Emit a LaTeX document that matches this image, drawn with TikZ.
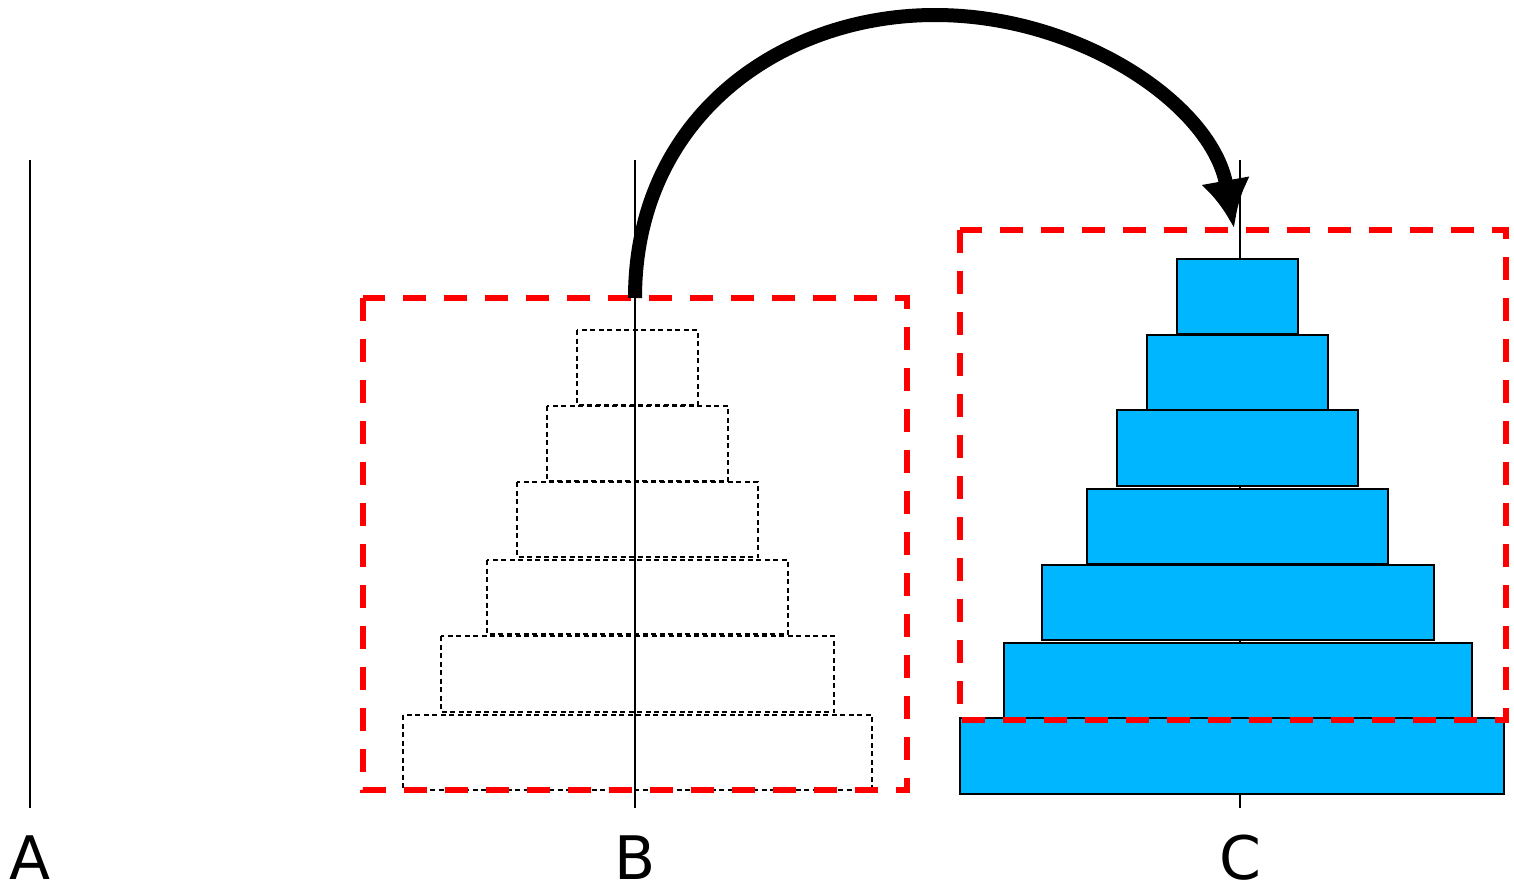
\documentclass[tikz,border=0pt]{standalone}
\usepackage{fontspec}
\setsansfont{DejaVu Sans}
\usetikzlibrary{arrows.meta}
\definecolor{diskblue}{RGB}{0,182,255}

\begin{document}
\begin{tikzpicture}[x=1pt,y=-1pt,>=Latex,
  peg/.style={line width=1.6pt},
  ghost/.style={line width=1.3pt,dash pattern=on 5pt off 3.5pt},
  disk/.style={draw,line width=1.6pt,fill=diskblue},
  selbox/.style={draw=red,line width=5.5pt,dash pattern=on 23pt off 18pt},
  lbl/.style={font=\sffamily\fontsize{60}{68}\selectfont,anchor=base,inner sep=0pt}]
  \useasboundingbox (0,0) rectangle (1514,887);
  % pegs
  \draw[peg] (30,160) -- (30,808);
  \draw[peg] (635,160) -- (635,808);
  \draw[peg] (1240,160) -- (1240,808);
  \node[lbl] (pegA) at (30,879) {A};
  \node[lbl] (pegB) at (635,879) {B};
  \node[lbl] (pegC) at (1240,879) {C};
  % old place of the tower on B
  \draw[ghost] (577,330) rectangle (698,405);
  \draw[ghost] (547,406) rectangle (728,481);
  \draw[ghost] (517,482) rectangle (758,557);
  \draw[ghost] (487,560) rectangle (788,634);
  \draw[ghost] (441,636) rectangle (834,712);
  \draw[ghost] (403,715) rectangle (872,790);
  % tower on C
  \draw[disk] (1177,259) rectangle (1298,334);
  \draw[disk] (1147,335) rectangle (1328,410);
  \draw[disk] (1117,410) rectangle (1358,486);
  \draw[disk] (1087,489) rectangle (1388,564);
  \draw[disk] (1042,565) rectangle (1434,640);
  \draw[disk] (1004,643) rectangle (1472,718);
  \draw[disk] (960,718) rectangle (1504,794);
  % moved block
  \draw[selbox] (363,298) rectangle (907,790);
  \draw[selbox] (960,230) rectangle (1506,720);
  \coordinate (src) at (635,298);
  \coordinate (apex) at (935,15);
  \coordinate (dst) at (1234,228);
  \draw[line width=14pt,-{Latex[length=48pt,width=50pt]}]
    (src) .. controls (635,118) and (780,15) .. (apex)
          .. controls (1080,15) and (1212,105) .. (dst);
\end{tikzpicture}
\end{document}
